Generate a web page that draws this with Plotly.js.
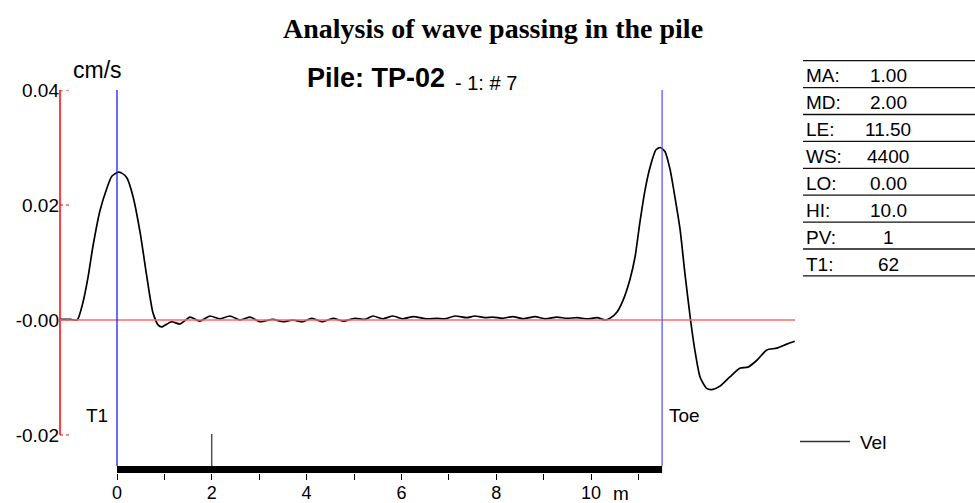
<!DOCTYPE html>
<html>
<head>
<meta charset="utf-8">
<script src="https://cdn.plot.ly/plotly-3.0.1.min.js"></script>
<style>html,body{margin:0;padding:0;background:#fff;}#chart{width:975px;height:503px;}</style>
</head>
<body>
<div id="chart"></div>
<script>
// ---- data ----
const depthM = [-1.20,-1.16,-0.98,-0.84,-0.72,-0.61,-0.51,-0.36,-0.21,-0.11,0.02,0.11,0.21,0.34,0.49,0.63,0.76,0.87,0.94,1.15,1.33,1.54,1.75,1.96,2.17,2.38,2.60,2.81,3.02,3.29,3.50,3.71,3.92,4.11,4.33,4.56,4.77,5.02,5.23,5.40,5.61,5.82,6.03,6.25,6.54,6.75,6.92,7.13,7.38,7.55,7.76,7.93,8.14,8.35,8.57,8.82,9.03,9.28,9.49,9.71,9.92,10.13,10.30,10.40,10.55,10.68,10.82,10.93,11.03,11.14,11.25,11.37,11.46,11.56,11.67,11.77,11.88,11.98,12.10,12.19,12.30,12.44,12.55,12.72,12.93,13.14,13.31,13.50,13.71,13.92,14.13,14.30];
const velocity = [0.0001,0.0001,0.0001,0.0000,0.0030,0.0075,0.0127,0.0190,0.0230,0.0250,0.0257,0.0255,0.0247,0.0214,0.0151,0.0075,0.0012,-0.0009,-0.0012,-0.0003,-0.0007,0.0005,-0.0002,0.0007,0.0002,0.0007,0.0000,0.0005,-0.0003,0.0001,-0.0003,0.0000,-0.0003,0.0003,-0.0003,0.0003,-0.0002,0.0003,0.0001,0.0007,0.0002,0.0007,0.0002,0.0006,0.0002,0.0003,0.0002,0.0007,0.0004,0.0007,0.0004,0.0005,0.0003,0.0006,0.0002,0.0006,0.0002,0.0005,0.0003,0.0004,0.0002,0.0004,0.0000,0.0003,0.0014,0.0035,0.0070,0.0110,0.0169,0.0226,0.0267,0.0296,0.0300,0.0293,0.0261,0.0214,0.0157,0.0082,0.0000,-0.0052,-0.0099,-0.0119,-0.0121,-0.0115,-0.0099,-0.0084,-0.0082,-0.0070,-0.0052,-0.0049,-0.0042,-0.0037];
const xTickVals = [0,1,2,3,4,5,6,7,8,9,10,11];
const xTickText = ['0','','2','','4','','6','','8','','10',''];
const yTickVals = [0.04,0.02,0,-0.02];
const yTickText = ['0.04','0.02','-0.00','-0.02'];
const markerX = [0, 11.5];
const markerLabels = ['T1','Toe'];
const pileLength = 11.5;
const mdMark = 2.0;
const paramLabels = ['MA:','MD:','LE:','WS:','LO:','HI:','PV:','T1:'];
const paramValues = ['1.00','2.00','11.50','4400','0.00','10.0','1','62'];

// ---- layout geometry ----
const W = 975, H = 503;
const M = {l:60, r:180, t:90, b:30};
const PW = W - M.l - M.r, PH = H - M.t - M.b;
const px = x => (x - M.l) / PW;           // pixel -> paper x
const py = y => (H - M.b - y) / PH;       // pixel -> paper y
const yScale = 5750;                       // px per unit
const yTop = 0.04, yBot = yTop - PH / yScale;
const xScale = 47.4, x0px = 117;
const xMin = (M.l - x0px) / xScale, xMax = (W - M.r - x0px) / xScale;
const barTop = (320 - 466) / yScale, barBot = yBot;

const SANS = 'Liberation Sans, Arial, sans-serif';
const SERIF = 'Liberation Serif, Times New Roman, serif';

const shapes = [];
// y-axis red line
shapes.push({type:'line', xref:'paper', yref:'y', x0:0, x1:0, y0:yTickVals[0], y1:yTickVals[yTickVals.length-1], line:{color:'#ff0000', width:1.5}});
// dotted ticks
yTickVals.forEach(v => shapes.push({type:'line', xref:'paper', yref:'y', x0:0, x1:px(72), y0:v, y1:v, line:{color:'#ff0000', width:1, dash:'dot'}}));
// zero line
shapes.push({type:'line', xref:'paper', yref:'y', x0:0, x1:1, y0:0, y1:0, line:{color:'#ff6a6a', width:1.5}});
// marker lines
shapes.push({type:'line', xref:'x', yref:'y', x0:markerX[0], x1:markerX[0], y0:barTop, y1:yTop, line:{color:'#1a1aff', width:1.3}});
shapes.push({type:'line', xref:'x', yref:'y', x0:markerX[1], x1:markerX[1], y0:barTop, y1:yTop, line:{color:'#5a5aff', width:1.3}});
// pile bar
shapes.push({type:'rect', xref:'x', yref:'y', x0:0, x1:pileLength, y0:barBot, y1:barTop, fillcolor:'#000', line:{width:0}});
// MD mark
shapes.push({type:'line', xref:'x', yref:'y', x0:mdMark, x1:mdMark, y0:(320-434)/yScale, y1:barTop, line:{color:'#000', width:1}});
// table lines
for (let i = 0; i <= paramLabels.length; i++) {
  const yy = 60.7 + 26.9 * i;
  shapes.push({type:'line', xref:'paper', yref:'paper', x0:px(803), x1:px(975), y0:py(yy), y1:py(yy), line:{color:'#111', width:1.3}});
}
// legend line
shapes.push({type:'line', xref:'paper', yref:'paper', x0:px(800), x1:px(850), y0:py(441.5), y1:py(441.5), line:{color:'#333', width:1.5}});

const annotations = [];
annotations.push({text:'<b>Analysis of wave passing in the pile</b>', xref:'paper', yref:'paper', x:px(492.5), y:py(28), xanchor:'center', yanchor:'middle', showarrow:false, font:{family:SERIF, size:28, color:'#000'}});
annotations.push({text:'<b>Pile: TP-02</b>', xref:'paper', yref:'paper', x:px(305), y:py(78), xanchor:'left', yanchor:'middle', showarrow:false, font:{family:SANS, size:27, color:'#000'}});
annotations.push({text:'- 1: # 7', xref:'paper', yref:'paper', x:px(453), y:py(83), xanchor:'left', yanchor:'middle', showarrow:false, font:{family:SANS, size:20, color:'#000'}});
annotations.push({text:'cm/s', xref:'paper', yref:'paper', x:px(71), y:py(70), xanchor:'left', yanchor:'middle', showarrow:false, font:{family:SANS, size:23, color:'#000'}});
annotations.push({text:markerLabels[0], xref:'paper', yref:'paper', x:px(110), y:py(415), xanchor:'right', yanchor:'middle', showarrow:false, font:{family:SANS, size:19, color:'#000'}});
annotations.push({text:markerLabels[1], xref:'paper', yref:'paper', x:px(667), y:py(415), xanchor:'left', yanchor:'middle', showarrow:false, font:{family:SANS, size:19, color:'#000'}});
annotations.push({text:'m', xref:'paper', yref:'paper', x:px(621), y:py(493), xanchor:'center', yanchor:'middle', showarrow:false, font:{family:SANS, size:19, color:'#000'}});
annotations.push({text:'Vel', xref:'paper', yref:'paper', x:px(858), y:py(442), xanchor:'left', yanchor:'middle', showarrow:false, font:{family:SANS, size:19, color:'#000'}});
paramLabels.forEach((lab, i) => {
  const yc = 60.7 + 26.9 * i + 15;
  annotations.push({text:lab, xref:'paper', yref:'paper', x:px(804), y:py(yc), xanchor:'left', yanchor:'middle', showarrow:false, font:{family:SANS, size:19, color:'#000'}});
  annotations.push({text:paramValues[i], xref:'paper', yref:'paper', x:px(888), y:py(yc), xanchor:'center', yanchor:'middle', showarrow:false, font:{family:SANS, size:19, color:'#000'}});
});

const trace = {
  x: depthM, y: velocity, type:'scatter', mode:'lines', name:'Vel',
  line:{color:'#000', width:1.7, shape:'spline', smoothing:0.6},
  hoverinfo:'x+y', showlegend:false
};

const layout = {
  width:W, height:H,
  margin:{l:M.l, r:M.r, t:M.t, b:M.b, pad:0},
  paper_bgcolor:'#fff', plot_bgcolor:'rgba(0,0,0,0)',
  showlegend:false,
  xaxis:{range:[xMin, xMax], showgrid:false, zeroline:false, showline:false,
    tickmode:'array', tickvals:xTickVals, ticktext:xTickText,
    ticks:'outside', ticklen:6, tickwidth:1, tickcolor:'#000', ticklabelstandoff:-3,
    tickfont:{family:SANS, size:18, color:'#000'}, fixedrange:true},
  yaxis:{range:[yBot, yTop], showgrid:false, zeroline:false, showline:false,
    tickmode:'array', tickvals:yTickVals, ticktext:yTickText, ticks:'',
    tickfont:{family:SANS, size:19, color:'#000'}, fixedrange:true},
  shapes:shapes, annotations:annotations
};

Plotly.newPlot('chart', [trace], layout, {displayModeBar:false, staticPlot:true});
</script>
</body>
</html>
